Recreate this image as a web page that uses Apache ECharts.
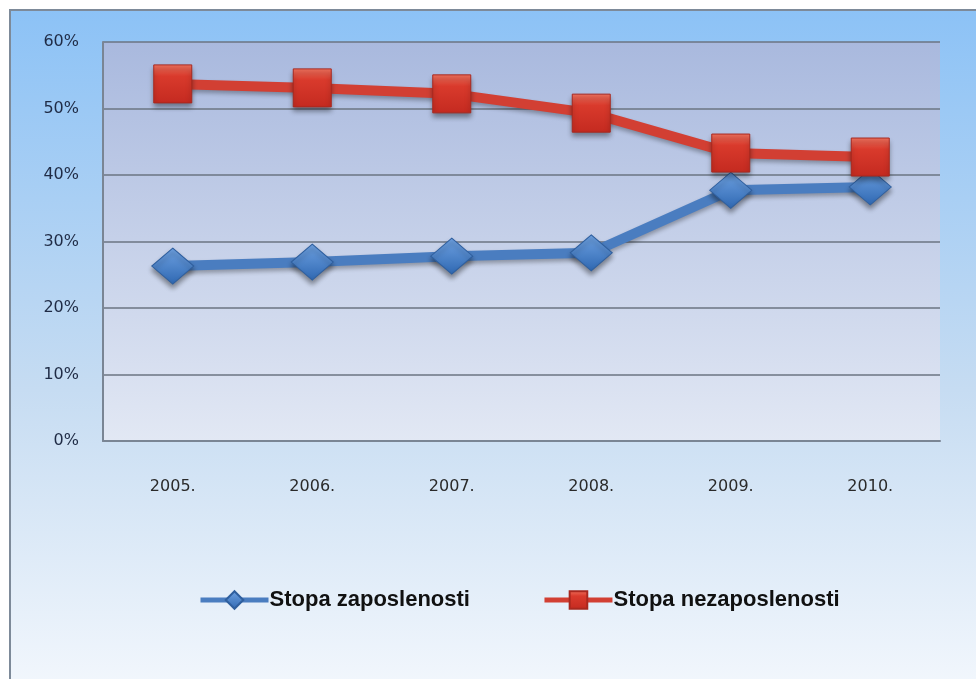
<!DOCTYPE html>
<html>
<head>
<meta charset="utf-8">
<script src="https://cdn.jsdelivr.net/npm/echarts@6/dist/echarts.min.js"></script>
<style>
html,body{margin:0;padding:0;background:#fff;}
#main{width:976px;height:679px;}
</style>
</head>
<body>
<div id="main"></div>
<script>
// godine
const years = ['2005.', '2006.', '2007.', '2008.', '2009.', '2010.'];
// stopa zaposlenosti (%)
const zaposlenost = [26.3, 26.9, 27.8, 28.3, 37.7, 38.2];
// stopa nezaposlenosti (%)
const nezaposlenost = [53.7, 53.1, 52.2, 49.3, 43.3, 42.7];

let myChart = echarts.init(document.getElementById('main'));
let option = {
    backgroundColor: '#ffffff',
    animation: false,
    graphic: [
        {
            type: 'rect',
            z: -10,
            shape: {x: 10, y: 10, width: 980, height: 690},
            style: {
                fill: new echarts.graphic.LinearGradient(0, 0, 0, 1, [
                    {offset: 0, color: '#8cc2f6'},
                    {offset: 0.55, color: '#c6dcf2'},
                    {offset: 1, color: '#f4f8fd'}
                ]),
                stroke: '#7d8a99',
                lineWidth: 2
            }
        }
    ],
    grid: {
        left: 103,
        right: 36,
        top: 42,
        bottom: 238,
        show: true,
        borderWidth: 0,
        backgroundColor: new echarts.graphic.LinearGradient(0, 0, 0, 1, [
            {offset: 0, color: '#a9b9de'},
            {offset: 1, color: '#e2e8f4'}
        ])
    },
    legend: {
        top: 584,
        left: 193,
        itemGap: 72,
        itemWidth: 68,
        itemHeight: 22,
        lineStyle: {width: 5},
        textStyle: {
            fontFamily: 'Liberation Sans',
            fontWeight: 'bold',
            fontSize: 22,
            color: '#111',
            padding: [0, 0, 0, -4]
        },
        data: ['Stopa zaposlenosti', 'Stopa nezaposlenosti']
    },
    xAxis: {
        type: 'category',
        data: years,
        axisTick: {show: false},
        axisLine: {lineStyle: {color: '#7a8594', width: 2}},
        axisLabel: {
            margin: 38,
            fontSize: 16,
            color: '#2a2a2a',
            fontFamily: 'DejaVu Sans'
        }
    },
    yAxis: {
        type: 'value',
        min: 0,
        max: 60,
        interval: 10,
        axisLine: {show: true, lineStyle: {color: '#7a8594', width: 2}},
        axisTick: {show: false},
        splitLine: {lineStyle: {color: '#6b7482', width: 1.5}},
        axisLabel: {
            formatter: '{value}%',
            margin: 24,
            fontSize: 16,
            color: '#1f2b45',
            fontFamily: 'DejaVu Sans'
        }
    },
    series: [
        {
            name: 'Stopa zaposlenosti',
            type: 'line',
            data: zaposlenost,
            symbol: 'diamond',
            symbolSize: [42, 36],
            lineStyle: {
                color: '#4a7dc0',
                width: 10,
                shadowColor: 'rgba(0,0,0,0.3)',
                shadowOffsetY: 3,
                shadowBlur: 4
            },
            itemStyle: {
                color: new echarts.graphic.LinearGradient(0, 0, 0, 1, [
                    {offset: 0, color: '#6fa2e2'},
                    {offset: 1, color: '#2f68b2'}
                ]),
                borderColor: '#2f5f9e',
                borderWidth: 1,
                shadowColor: 'rgba(0,0,0,0.4)',
                shadowOffsetY: 4,
                shadowBlur: 5
            }
        },
        {
            name: 'Stopa nezaposlenosti',
            type: 'line',
            data: nezaposlenost,
            symbol: 'rect',
            symbolSize: 38,
            lineStyle: {
                color: '#d23f33',
                width: 10,
                shadowColor: 'rgba(0,0,0,0.3)',
                shadowOffsetY: 3,
                shadowBlur: 4
            },
            itemStyle: {
                color: new echarts.graphic.LinearGradient(0, 0, 0, 1, [
                    {offset: 0, color: '#f0735f'},
                    {offset: 0.3, color: '#d93a2c'},
                    {offset: 1, color: '#c42a20'}
                ]),
                borderColor: '#a8281f',
                borderWidth: 1,
                shadowColor: 'rgba(0,0,0,0.4)',
                shadowOffsetY: 4,
                shadowBlur: 5
            }
        }
    ]
};
myChart.setOption(option);
window.addEventListener('resize', function () {
    myChart.resize();
});
</script>
</body>
</html>
